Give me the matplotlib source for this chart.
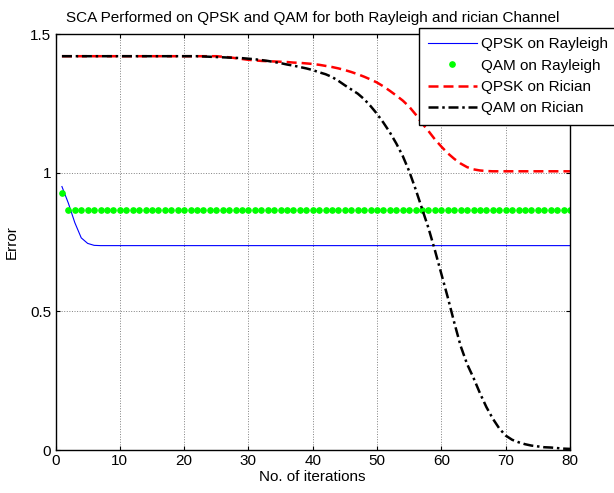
import numpy as np
import matplotlib
matplotlib.use('Agg')
import matplotlib.pyplot as plt

plt.rcParams['font.family'] = ['Liberation Sans', 'DejaVu Sans']

# iterations
iters = np.arange(1, 81)

# QPSK on Rayleigh
qpsk_ray = [0.95, 0.89, 0.82, 0.765, 0.745, 0.738] + [0.737] * 74

# QAM on Rayleigh
qam_ray = [0.928] + [0.867] * 79

# QPSK on Rician
qpsk_ric = ([1.42] * 25 +
            [1.418, 1.416, 1.413, 1.41, 1.407,            # 26-30
             1.405, 1.403, 1.402, 1.401, 1.40,            # 31-35
             1.399, 1.397, 1.396, 1.394, 1.392,           # 36-40
             1.389, 1.385, 1.381, 1.376, 1.37,            # 41-45
             1.363, 1.355, 1.346, 1.336, 1.325,           # 46-50
             1.311, 1.295, 1.278, 1.26, 1.238,            # 51-55
             1.21, 1.178, 1.15, 1.12, 1.094,              # 56-60
             1.07, 1.05, 1.033, 1.02, 1.012,              # 61-65
             1.008, 1.006] +
            [1.005] * 13)

# QAM on Rician
qam_ric = ([1.42] * 22 +
           [1.419, 1.418, 1.417, 1.416, 1.415, 1.414, 1.413, 1.411,   # 23-30
            1.409, 1.406, 1.403, 1.399, 1.395,                        # 31-35
            1.39, 1.386, 1.381, 1.376, 1.37,                          # 36-40
            1.362, 1.355, 1.345, 1.331, 1.315,                        # 41-45
            1.30, 1.285, 1.265, 1.24, 1.212,                          # 46-50
            1.18, 1.145, 1.105, 1.06, 1.005,                          # 51-55
            0.94, 0.87, 0.80, 0.72, 0.635,                            # 56-60
            0.55, 0.46, 0.375, 0.31, 0.26,                            # 61-65
            0.205, 0.155, 0.113, 0.078, 0.052,                        # 66-70
            0.037, 0.028, 0.021, 0.016, 0.013,                        # 71-75
            0.010, 0.009, 0.007, 0.005, 0.004])                       # 76-80

fig = plt.figure(figsize=(6.14, 4.93), dpi=100)
ax = fig.add_axes([0.0904, 0.0872, 0.8379, 0.8438])

ax.plot(iters, qpsk_ray, color='blue', linewidth=0.8, label='QPSK on Rayleigh')
ax.plot(iters, qam_ray, linestyle='none', marker='o', markersize=3.8,
        color=(0, 1, 0), label='QAM on Rayleigh')
ax.plot(iters, qpsk_ric, color='red', linestyle=(0, (4, 2)), linewidth=1.8,
        label='QPSK on Rician')
ax.plot(iters, qam_ric, color='black', linestyle=(0, (4, 1.5, 1, 1.5)),
        linewidth=1.8, label='QAM on Rician')

ax.set_xlim(0, 80)
ax.set_ylim(0, 1.5)
ax.set_xticks(np.arange(0, 81, 10))
ax.set_yticks([0, 0.5, 1, 1.5])
ax.set_yticklabels(['0', '0.5', '1', '1.5'])
ax.tick_params(direction='in', top=True, right=True, length=3, labelsize=11,
               width=0.8, pad=3)
ax.grid(True, color='#808080', linestyle=':', linewidth=0.7)
for s in ax.spines.values():
    s.set_linewidth(1.0)

ax.set_title('SCA Performed on QPSK and QAM for both Rayleigh and rician Channel',
             fontsize=11, pad=9)
ax.set_xlabel('No. of iterations', fontsize=11, labelpad=1)
ax.set_ylabel('Error', fontsize=11, labelpad=8)

leg = ax.legend(loc='upper left', bbox_to_anchor=(0.707, 1.0137), borderaxespad=0,
                fancybox=False, framealpha=1, edgecolor='black', fontsize=11,
                handlelength=3.15, handletextpad=0.26, labelspacing=0.48,
                borderpad=0.6, numpoints=1)
leg.get_frame().set_linewidth(1.0)

fig.savefig('out.png', dpi=100)
